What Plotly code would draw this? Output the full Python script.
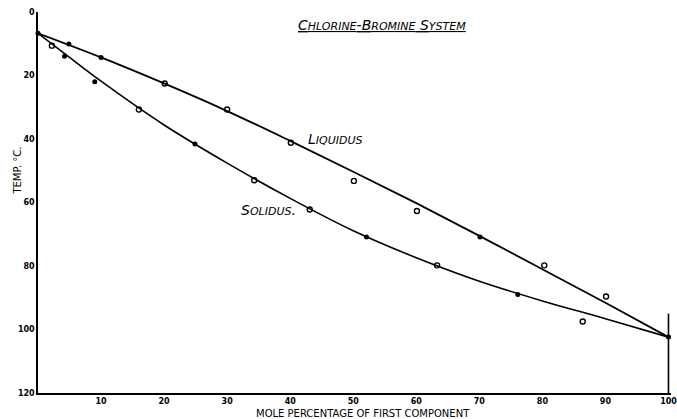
import plotly.graph_objects as go

# Fitted curves
liq_curve_x = [0, 10, 20, 30, 40, 50, 60, 70, 80, 90, 100]
liq_curve_y = [6.7, 14.3, 22.5, 31.2, 40.6, 50.3, 60.2, 70.5, 81.0, 91.6, 102.4]
sol_curve_x = [0, 5, 10, 20, 30, 40, 50, 60, 70, 80, 90, 100]
sol_curve_y = [6.7, 14.3, 21.8, 35.6, 47.6, 58.7, 68.9, 77.4, 84.8, 91.0, 96.6, 102.4]

# Measured points
filled_x = [0, 4.9, 10.0, 4.2, 9.0, 24.9, 52.1, 70.1, 76.1, 100]
filled_y = [6.7, 10.1, 14.3, 13.9, 22.0, 41.6, 70.9, 70.9, 89.0, 102.4]
open_x = [2.2, 16.0, 20.1, 30.0, 34.3, 40.1, 43.1, 50.1, 60.1, 63.3, 80.3, 86.4, 90.1]
open_y = [10.6, 30.7, 22.5, 30.7, 53.0, 41.2, 62.2, 53.2, 62.7, 79.8, 79.8, 97.5, 89.6]

# Short boundary line at pure component
edge_x = [100, 100]
edge_y = [95, 120]

x_ticks = [10, 20, 30, 40, 50, 60, 70, 80, 90, 100]
y_ticks = [0, 20, 40, 60, 80, 100, 120]

fig = go.Figure()
fig.add_trace(go.Scatter(x=liq_curve_x, y=liq_curve_y, mode="lines",
                         line=dict(color="black", width=1.8, shape="spline", smoothing=1.0)))
fig.add_trace(go.Scatter(x=sol_curve_x, y=sol_curve_y, mode="lines",
                         line=dict(color="black", width=1.6, shape="spline", smoothing=1.0)))
fig.add_trace(go.Scatter(x=edge_x, y=edge_y, mode="lines", cliponaxis=False,
                         line=dict(color="black", width=1.6)))
fig.add_trace(go.Scatter(x=open_x, y=open_y, mode="markers", cliponaxis=False,
                         marker=dict(symbol="circle-open", size=5, color="black",
                                     line=dict(width=1.4, color="black"))))
fig.add_trace(go.Scatter(x=filled_x, y=filled_y, mode="markers", cliponaxis=False,
                         marker=dict(symbol="circle", size=5, color="black")))

small = "font-size:11px"
title_txt = ("<i><u>C<span style='%s'>HLORINE</span>-B<span style='%s'>ROMINE</span> "
             "S<span style='%s'>YSTEM</span></u></i>") % (small, small, small)
liq_txt = "<i>L<span style='%s'>IQUIDUS</span></i>" % small
sol_txt = "<i>S<span style='%s'>OLIDUS</span>.</i>" % small

fig.update_layout(
    width=677, height=419,
    margin=dict(l=38, r=6, t=12, b=26),
    paper_bgcolor="white", plot_bgcolor="white",
    showlegend=False,
    font=dict(family="DejaVu Sans", color="black"),
    xaxis=dict(range=[0, 100.4], tickvals=x_ticks, showgrid=False, zeroline=False,
               showline=True, linecolor="black", linewidth=1.6, automargin=False,
               ticklabeloverflow="allow",
               ticks="", tickfont=dict(size=8, family="DejaVu Sans", weight="bold")),
    yaxis=dict(range=[120, 0], tickvals=y_ticks, showgrid=False, zeroline=False,
               showline=True, linecolor="black", linewidth=1.6, automargin=False,
               ticks="", tickfont=dict(size=8, family="DejaVu Sans", weight="bold")),
    annotations=[
        dict(x=54.5, y=4.1, xref="x", yref="y", text=title_txt, showarrow=False,
             font=dict(size=14, family="DejaVu Sans")),
        dict(x=42.5, y=40, xref="x", yref="y", text=liq_txt, showarrow=False,
             xanchor="left", font=dict(size=14, family="DejaVu Sans")),
        dict(x=31.9, y=62.5, xref="x", yref="y", text=sol_txt, showarrow=False,
             xanchor="left", font=dict(size=14, family="DejaVu Sans")),
        dict(x=-0.032, y=0.583, xref="paper", yref="paper", text="TEMP. °C.",
             xanchor="center", yanchor="middle",
             textangle=-90, showarrow=False, font=dict(size=10, family="DejaVu Sans")),
        dict(x=0.513, y=-0.055, xref="paper", yref="paper",
             xanchor="center", yanchor="middle",
             text="MOLE PERCENTAGE OF FIRST COMPONENT", showarrow=False,
             font=dict(size=10, family="DejaVu Sans")),
    ],
)

fig.write_html("out.html", config={"displayModeBar": False},
               post_script="document.body.style.margin='0';document.body.style.overflow='hidden';")
